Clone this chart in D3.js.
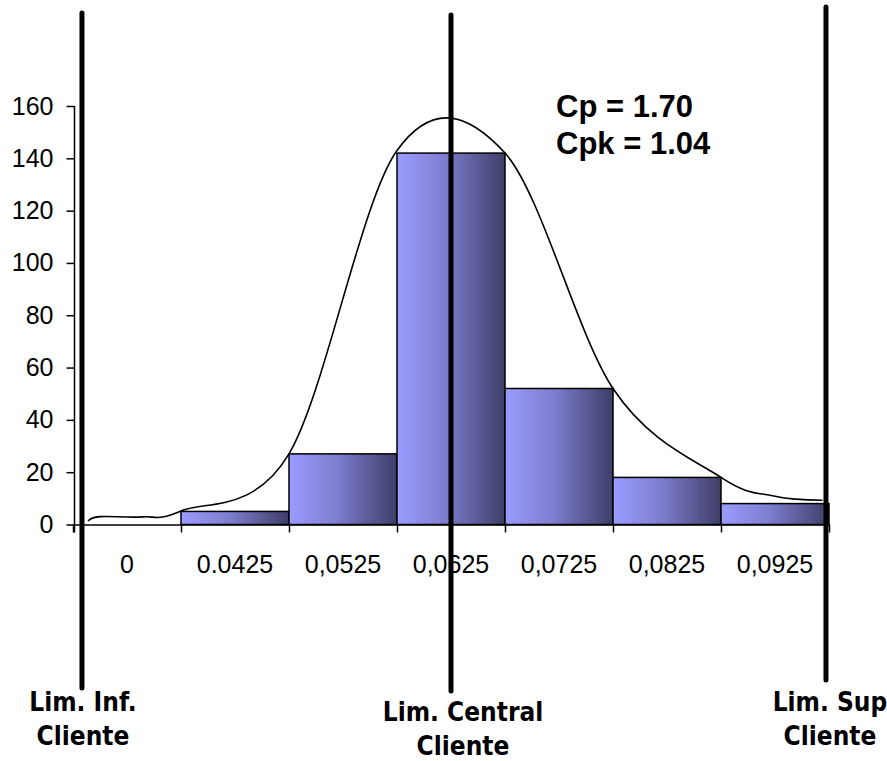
<!DOCTYPE html>
<html>
<head>
<meta charset="utf-8">
<script src="https://cdnjs.cloudflare.com/ajax/libs/d3/7.8.5/d3.min.js"></script>
<style>
  body { margin: 0; background: #fff; }
  svg { display: block; }
</style>
</head>
<body>
<script>
// categories (class centres) and the bar counts
var categories = ["0", "0.0425", "0,0525", "0,0625", "0,0725", "0,0825", "0,0925"];
var centers = [0.0325, 0.0425, 0.0525, 0.0625, 0.0725, 0.0825, 0.0925];
var counts = [0, 5, 27, 142, 52, 18, 8];

// smooth curve points: measure value, count
var curveX = [0.0289, 0.0300, 0.0340, 0.0375, 0.0475, 0.0575, 0.0675, 0.0775, 0.0875, 0.0925, 0.0969];
var curveY = [1.3, 3.0, 2.9, 5.2, 27, 143, 142, 52, 18, 10.8, 9.3];

// customer limits
var limits = [
  { key: "inf", value: 0.02833, lines: ["Lim. Inf.", "Cliente"] },
  { key: "central", value: 0.0625, lines: ["Lim. Central", "Cliente"] },
  { key: "sup", value: 0.09722, lines: ["Lim. Sup", "Cliente"] }
];

var yTicks = [0, 20, 40, 60, 80, 100, 120, 140, 160];
var stats = ["Cp = 1.70", "Cpk = 1.04"];

var width = 887,
  height = 761;
var binWidth = 0.01;

var svg = d3
  .select("body")
  .append("svg")
  .attr("width", width)
  .attr("height", height);

svg.append("rect").attr("width", width).attr("height", height).attr("fill", "#fff");

var x = d3.scaleLinear().domain([0.0275, 0.0975]).range([73, 829]);
var y = d3.scaleLinear().domain([0, 160]).range([524.5, 106]);

var grad = svg
  .append("defs")
  .append("linearGradient")
  .attr("id", "barFill")
  .attr("x1", "0%")
  .attr("x2", "100%")
  .attr("y1", "0%")
  .attr("y2", "0%");
grad.append("stop").attr("offset", "0%").attr("stop-color", "#9c9cff");
grad.append("stop").attr("offset", "45%").attr("stop-color", "#7d7dcf");
grad.append("stop").attr("offset", "100%").attr("stop-color", "#3e3e68");

var bars = centers.map(function (c, i) {
  return { key: categories[i], x0: c - binWidth / 2, x1: c + binWidth / 2, value: counts[i] };
});

svg
  .selectAll("rect.bar")
  .data(bars.filter(function (d) { return d.value > 0; }))
  .enter()
  .append("rect")
  .attr("class", "bar")
  .attr("x", function (d) { return x(d.x0); })
  .attr("width", function (d) { return x(d.x1) - x(d.x0); })
  .attr("y", function (d) { return y(d.value); })
  .attr("height", function (d) { return y(0) - y(d.value); })
  .attr("fill", "url(#barFill)")
  .attr("stroke", "#000")
  .attr("stroke-width", 1.5);

// y axis
var yAxis = d3
  .axisLeft(y)
  .tickValues(yTicks)
  .tickSize(8)
  .tickSizeOuter(0)
  .tickPadding(13);

var gy = svg.append("g").attr("transform", "translate(74.5,0)").call(yAxis);
gy.select(".domain").remove();
gy.append("line").attr("y1", y(160)).attr("y2", y(0) + 8).attr("stroke", "#000").attr("stroke-width", 1.5);
gy.selectAll(".tick line").attr("stroke-width", 1.5);
gy.selectAll("text")
  .attr("fill", "#000")
  .style("font-family", "'Liberation Sans', Arial, sans-serif")
  .style("font-size", "25px");

// x axis, ticks between categories
var bounds = d3.range(8).map(function (i) { return 0.0275 + i * binWidth; });
var xAxis = d3
  .axisBottom(x)
  .tickValues(bounds)
  .tickSize(8)
  .tickSizeOuter(0)
  .tickFormat("");

var gx = svg.append("g").attr("transform", "translate(0," + y(0) + ")").call(xAxis);
gx.select(".domain").attr("stroke-width", 1.5);
gx.selectAll(".tick line").attr("stroke-width", 1.5);

svg
  .selectAll("text.cat")
  .data(categories)
  .enter()
  .append("text")
  .attr("class", "cat")
  .attr("x", function (d, i) { return x(centers[i]); })
  .attr("y", 573)
  .attr("text-anchor", "middle")
  .style("font-family", "'Liberation Sans', Arial, sans-serif")
  .style("font-size", "25px")
  .text(function (d) { return d; });

// fitted curve
var pts = curveX.map(function (v, i) { return [v, curveY[i]]; });
var line = d3
  .line()
  .x(function (d) { return x(d[0]); })
  .y(function (d) { return y(d[1]); })
  .curve(d3.curveCardinal.tension(0));

svg
  .append("path")
  .datum(pts)
  .attr("d", line)
  .attr("fill", "none")
  .attr("stroke", "#000")
  .attr("stroke-width", 1.6);

// limit lines
var lineTops = { inf: 13, central: 15, sup: 7 };
var lineBottoms = { inf: 688, central: 691, sup: 680 };
var labelY = { inf: 711, central: 721, sup: 711 };
var labelDx = { inf: 1, central: 12, sup: 4 };

svg
  .selectAll("line.limit")
  .data(limits)
  .enter()
  .append("line")
  .attr("class", "limit")
  .attr("x1", function (d) { return x(d.value); })
  .attr("x2", function (d) { return x(d.value); })
  .attr("y1", function (d) { return lineTops[d.key]; })
  .attr("y2", function (d) { return lineBottoms[d.key]; })
  .attr("stroke", "#000")
  .attr("stroke-width", 5)
  .attr("stroke-linecap", "round");

var lab = svg
  .selectAll("text.limit")
  .data(limits)
  .enter()
  .append("text")
  .attr("class", "limit")
  .attr("text-anchor", "middle")
  .style("font-family", "'Liberation Sans Narrow', 'DejaVu Sans Condensed', 'Arial Narrow', sans-serif")
  .style("font-weight", "bold")
  .style("font-size", "26px");

lab
  .selectAll("tspan")
  .data(function (d) {
    return d.lines.map(function (t, j) { return { t: t, j: j, d: d }; });
  })
  .enter()
  .append("tspan")
  .attr("x", function (e) { return x(e.d.value) + labelDx[e.d.key]; })
  .attr("y", function (e) { return labelY[e.d.key] + e.j * 34; })
  .text(function (e) { return e.t; });

// capability indices
svg
  .selectAll("text.stat")
  .data(stats)
  .enter()
  .append("text")
  .attr("class", "stat")
  .attr("x", 556)
  .attr("y", function (d, i) { return 117 + i * 37; })
  .style("font-family", "'Liberation Sans', Arial, sans-serif")
  .style("font-weight", "bold")
  .style("font-size", "31px")
  .text(function (d) { return d; });
</script>
</body>
</html>
